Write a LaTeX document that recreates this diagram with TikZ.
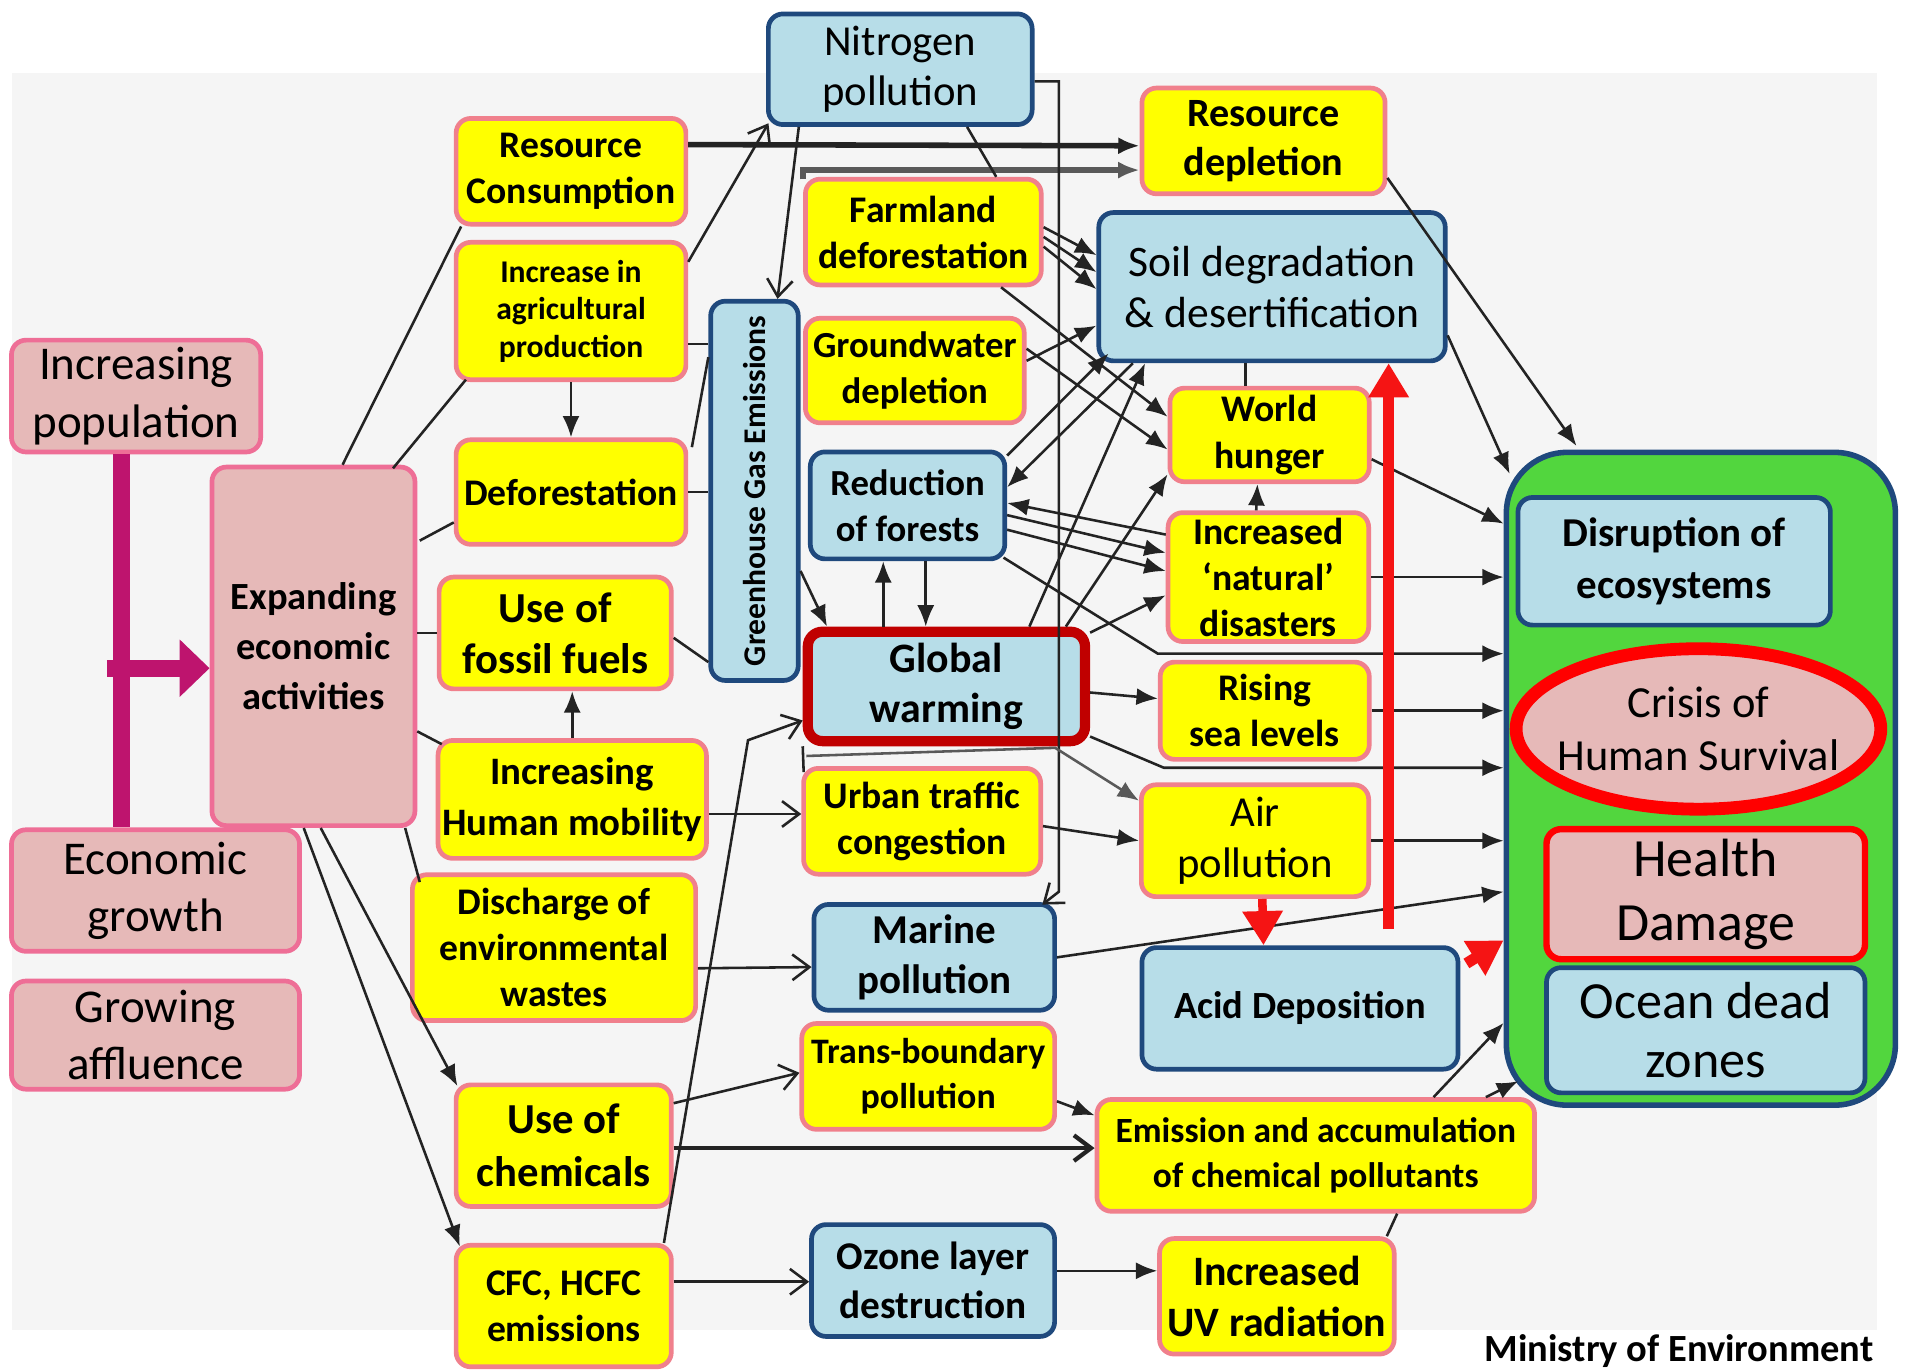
\documentclass[tikz,border=0pt]{standalone}
\usepackage{fontspec}
\setmainfont{Carlito}
\usetikzlibrary{arrows.meta, positioning, calc, shapes.geometric}

\definecolor{ylw}{RGB}{255,255,0}
\definecolor{ylwline}{RGB}{240,128,140}
\definecolor{lblue}{RGB}{183,221,232}
\definecolor{dblue}{RGB}{31,73,125}
\definecolor{lpink}{RGB}{230,185,184}
\definecolor{pinkline}{RGB}{238,110,150}
\definecolor{dred}{RGB}{192,0,0}
\definecolor{brightred}{RGB}{245,20,20}
\definecolor{grn}{RGB}{82,214,62}
\definecolor{bracketcol}{RGB}{190,20,110}
\definecolor{bgcol}{RGB}{245,245,245}
\definecolor{linecol}{RGB}{35,35,35}

\begin{document}
\begin{tikzpicture}[x=0.01cm, y=-0.01cm,
  box/.style={rounded corners=0.12cm, align=center, inner sep=1pt, line width=1.1pt},
  ybox/.style={box, fill=ylw, draw=ylwline, font=\fontsize{8.8}{10.8}\selectfont\bfseries},
  bbox/.style={box, fill=lblue, draw=dblue, font=\fontsize{10}{11.8}\selectfont},
  pbox/.style={box, fill=lpink, draw=pinkline, font=\fontsize{11}{13.4}\selectfont},
  link/.style={draw=linecol, line width=0.6pt},
  arr/.style={link, -{Latex[length=5pt,width=4pt]}},
  oarr/.style={link, -{Straight Barb[length=4pt,width=6pt]}},
  redarr/.style={draw=brightred, line width=2.6pt, -{Triangle[length=8pt,width=9pt]}}]
\fill[white] (0,0) rectangle (1568,1127);
\fill[bgcol] (10,60) rectangle (1545,1095);
\useasboundingbox (0,0) rectangle (1568,1127);

% drivers
\node[pbox, minimum width=2.05cm, minimum height=0.92cm] (pop) at (112,326) {Increasing\\population};
\node[pbox, minimum width=2.37cm, minimum height=1.00cm] (econ) at (128,733) {Economic\\growth};
\node[pbox, minimum width=2.37cm, minimum height=0.89cm] (afflu) at (128,852) {Growing\\affluence};
\node[pbox, minimum width=1.67cm, minimum height=2.95cm, font=\fontsize{9}{11.7}\selectfont\bfseries] (expand) at (258,532) {Expanding\\economic\\activities};

% pressures
\node[ybox, minimum width=1.89cm, minimum height=0.87cm] (rescons) at (470,141) {Resource\\Consumption};
\node[ybox, minimum width=1.89cm, minimum height=1.13cm, font=\fontsize{7.4}{8.8}\selectfont\bfseries] (agri) at (470,256) {Increase in\\agricultural\\production};
\node[ybox, minimum width=1.89cm, minimum height=0.86cm] (defor) at (470,405) {Deforestation};
\node[ybox, minimum width=1.91cm, minimum height=0.92cm, font=\fontsize{10}{12}\selectfont\bfseries] (fossil) at (457,521) {Use of\\fossil fuels};
\node[ybox, minimum width=2.18cm, minimum height=0.97cm, font=\fontsize{9.1}{12}\selectfont\bfseries] (mobil) at (471,658) {Increasing\\Human mobility};
\node[ybox, minimum width=2.33cm, minimum height=1.20cm] (disch) at (456,780) {Discharge of\\environmental\\wastes};
\node[ybox, minimum width=1.77cm, minimum height=1.00cm, font=\fontsize{10}{12.4}\selectfont\bfseries] (chem) at (464,943) {Use of\\chemicals};
\node[ybox, minimum width=1.77cm, minimum height=1.00cm] (cfc) at (464,1075) {CFC, HCFC\\emissions};
\node[bbox, minimum width=0.72cm, minimum height=3.12cm, font=\fontsize{7.4}{9}\selectfont\bfseries] (ghg) at (621,404) {\rotatebox{90}{Greenhouse Gas Emissions}};

% middle
\node[bbox, minimum width=2.17cm, minimum height=0.91cm] (nitro) at (741,57) {Nitrogen\\pollution};
\node[ybox, minimum width=1.94cm, minimum height=0.87cm] (farm) at (760,191) {Farmland\\deforestation};
\node[ybox, minimum width=1.80cm, minimum height=0.86cm, font=\fontsize{8.6}{10.8}\selectfont\bfseries] (ground) at (753,305) {Groundwater\\depletion};
\node[bbox, minimum width=1.60cm, minimum height=0.88cm, font=\fontsize{8.6}{10.8}\selectfont\bfseries] (redfor) at (747,416) {Reduction\\of forests};
\node[bbox, draw=dred, line width=2.4pt, minimum width=2.28cm, minimum height=0.90cm, font=\fontsize{9.8}{11.6}\selectfont\bfseries] (warm) at (779,565) {Global\\warming};
\node[ybox, minimum width=1.95cm, minimum height=0.87cm] (urban) at (759,676) {Urban traffic\\congestion};
\node[bbox, minimum width=1.98cm, minimum height=0.87cm, font=\fontsize{9.6}{11.6}\selectfont\bfseries] (marine) at (769,788) {Marine\\pollution};
\node[ybox, minimum width=2.08cm, minimum height=0.87cm, font=\fontsize{8.4}{10.6}\selectfont\bfseries] (trans) at (764,886) {Trans-boundary\\pollution};
\node[bbox, minimum width=2.00cm, minimum height=0.92cm, font=\fontsize{9.2}{11.6}\selectfont\bfseries] (ozone) at (768,1054) {Ozone layer\\destruction};

% impacts
\node[ybox, minimum width=2.00cm, minimum height=0.87cm, font=\fontsize{9.4}{11.6}\selectfont\bfseries] (resdep) at (1040,116) {Resource\\depletion};
\node[bbox, minimum width=2.85cm, minimum height=1.22cm, font=\fontsize{10.2}{12}\selectfont] (soil) at (1047,236) {Soil degradation\\\& desertification};
\node[ybox, minimum width=1.64cm, minimum height=0.77cm] (hunger) at (1045,358) {World\\hunger};
\node[ybox, minimum width=1.65cm, minimum height=1.06cm] (disas) at (1044,475) {Increased\\`natural'\\disasters};
\node[ybox, minimum width=1.72cm, minimum height=0.80cm] (sea) at (1041,585) {Rising\\sea levels};
\node[ybox, minimum width=1.87cm, minimum height=0.92cm, font=\fontsize{10}{12}\selectfont] (air) at (1033,692) {Air\\pollution};
\node[bbox, minimum width=2.60cm, minimum height=1.00cm, font=\fontsize{9}{11}\selectfont\bfseries] (acid) at (1070,830) {Acid Deposition};
\node[ybox, minimum width=3.60cm, minimum height=0.92cm, font=\fontsize{8.3}{10.6}\selectfont\bfseries] (emis) at (1083,951) {Emission and accumulation\\of chemical pollutants};
\node[ybox, minimum width=1.93cm, minimum height=0.95cm, font=\fontsize{9.8}{12}\selectfont\bfseries] (uv) at (1051,1067) {Increased\\UV radiation};

% outcome block
\node[draw=dblue, fill=grn, line width=1.3pt, rounded corners=0.5cm, minimum width=3.20cm, minimum height=5.37cm] (green) at (1400,641) {};
\node[bbox, minimum width=2.57cm, minimum height=1.05cm, font=\fontsize{9.6}{12}\selectfont\bfseries] (disrupt) at (1378,462) {Disruption of\\ecosystems};
\node[ellipse, fill=lpink, draw=red, line width=3pt, inner xsep=-11pt, inner ysep=-3pt, minimum width=3.0cm, minimum height=1.32cm, align=center, font=\fontsize{10.4}{12.6}\selectfont] (crisis) at (1398,600) {Crisis of\\Human Survival};
\node[pbox, draw=red, line width=1.5pt, minimum width=2.62cm, minimum height=1.07cm, font=\fontsize{12.6}{15}\selectfont] (health) at (1404,736) {Health\\Damage};
\node[bbox, minimum width=2.62cm, minimum height=1.03cm, font=\fontsize{12.2}{13.7}\selectfont] (ocean) at (1404,848) {Ocean dead\\zones};

\node[font=\fontsize{9}{11}\selectfont\bfseries] (ministry) at (1382,1112) {Ministry of Environment};

% bracket
\coordinate (hub) at (88,550);
\draw[bracketcol, line width=4pt] (100,0 |- pop.south) -- (100,0 |- econ.north);
\draw[bracketcol, line width=4pt, -{Triangle[length=7pt,width=13pt]}] (hub) -- (hub -| expand.west);

% from expanding activities
\draw[link] ($(expand.north)+(24,0)$) -- ($(rescons.south west)+(6,0)$);
\draw[link] ($(expand.north east)+(-20,3)$) -- ($(agri.south west)+(10,-2)$);
\draw[link] ($(expand.east)+(2,-87)$) -- ($(defor.west)+(0,25)$);
\draw[link] (expand.east |- fossil.west) -- (fossil.west);
\draw[link] ($(expand.east)+(0,70)$) -- ($(mobil.north west)+(5,5)$);
\draw[link] ($(expand.south east)+(-10,0)$) -- ($(disch.north west)+(8,8)$);
\draw[arr] ($(expand.south)+(6,0)$) -- ($(chem.north west)+(3,3)$);
\draw[arr] ($(expand.south)+(-8,0)$) -- ($(cfc.north west)+(5,3)$);

\draw[arr] (agri) -- (defor);
\draw[arr] (mobil.north) -- (mobil.north |- fossil.south);
\draw[oarr] ($(agri.north east)+(0,18)$) -- ($(nitro.south west)+(2,-3)$);
\draw[link] ($(agri.east)+(0,27)$) -- ($(agri.east -| ghg.west)+(0,27)$);
\draw[link] (defor.east) -- (defor.east -| ghg.west);
\draw[link] ($(defor.north east)+(3,8)$) -- ($(ghg.west)+(0,-110)$);
\draw[link] ($(fossil.east)+(0,4)$) -- ($(ghg.west)+(0,141)$);

% top row
\draw[arr, line width=1.3pt] ($(rescons.east)+(0,-22)$) -- ($(resdep.west)+(0,4)$);
\draw[arr, draw=gray!70!black, line width=1.3pt] ($(farm.north west)+(0,2)$) |- ($(resdep.west)+(0,24)$);
\draw[oarr] ($(nitro.south west)+(27,0)$) -- ($(ghg.north)+(19,0)$);
\draw[link] ($(nitro.south)+(55,0)$) -- ($(farm.north)+(60,0)$);
\draw[oarr] ($(nitro.east)+(0,10)$) -- ++(20,0) -- ++(0,667) -- ($(marine.north east)+(-12,2)$);

% web in the middle
\foreach \dy/\ey in {-4/-26, 4/-12, 12/2}
  \draw[arr] ($(farm.east)+(0,\dy)$) -- ($(soil.west)+(0,\ey)$);
\draw[arr] ($(farm.south east)+(-35,0)$) -- ($(hunger.west)+(0,-15)$);
\draw[arr] ($(ground.east)+(0,-8)$) -- ($(soil.west)+(0,32)$);
\draw[arr] ($(ground.east)+(0,-18)$) -- ($(hunger.west)+(0,12)$);
\draw[arr] ($(redfor.north east)+(0,5)$) -- ($(soil.south west)+(10,-8)$);
\draw[arr] ($(soil.south west)+(30,0)$) -- ($(redfor.east)+(0,-15)$);
\draw[arr] ($(redfor.east)+(0,8)$) -- ($(disas.west)+(0,-20)$);
\draw[arr] ($(redfor.east)+(0,20)$) -- ($(disas.west)+(0,-5)$);
\draw[arr] ($(disas.west)+(0,-35)$) -- ($(redfor.east)+(0,-2)$);
\draw[arr] ($(redfor.south east)+(-3,-3)$) -- ($(sea.north west)+(0,-5)$) -- ($(sea.north west -| green.west)+(0,-5)$);
\draw[arr] ($(warm.north east)+(-50,0)$) -- ($(soil.south west)+(40,0)$);
\draw[arr] ($(warm.north east)+(-20,0)$) -- ($(hunger.south west)+(0,-8)$);
\draw[arr] ($(warm.north east)+(0,5)$) -- ($(disas.west)+(0,15)$);
\draw[arr] ($(warm.north)+(-52,0)$) -- ($(redfor.south)+(-20,0)$);
\draw[arr] ($(redfor.south)+(15,0)$) -- ($(warm.north)+(-17,0)$);
\draw[arr] ($(ghg.east)+(0,66)$) -- ($(warm.north west)+(20,0)$);
\draw[arr] ($(warm.east)+(0,5)$) -- ($(sea.west)+(0,-10)$);
\draw[arr] ($(warm.south east)+(0,-8)$) -- ($(sea.south west)+(5,5)$) -- ($(sea.south west -| green.west)+(0,5)$);
\draw[link] (warm.south west) -- ($(urban.north west)+(2,5)$);
\draw[arr, draw=gray!70!black] ($(warm.south west)+(3,8)$) -- ($(urban.north east)+(10,-15)$) -- ($(air.north west)+(0,15)$);
\draw[arr] ($(disas.north)+(-10,0)$) -- ($(hunger.south)+(-10,0)$);
\draw[link] ($(hunger.north)+(-20,0)$) -- ($(hunger.north |- soil.south)+(-20,0)$);

% lower part
\draw[oarr] ($(cfc.north east)+(-8,0)$) -- ($(warm.south west)+(-45,-5)$) -- ($(warm.west)+(0,28)$);
\draw[oarr] ($(mobil.east)+(0,12)$) -- ($(urban.west)+(0,-6)$);
\draw[arr] ($(urban.east)+(0,4)$) -- (air.west);
\draw[oarr] ($(disch.east)+(0,17)$) -- ($(marine.west)+(0,8)$);
\draw[oarr] ($(chem.north east)+(0,17)$) -- ($(trans.west)+(0,-3)$);
\draw[oarr, line width=1pt] ($(chem.east)+(0,2)$) -- ($(emis.west)+(0,-6)$);
\draw[arr] ($(trans.south east)+(0,-25)$) -- ($(emis.north west)+(0,15)$);
\draw[oarr] ($(cfc.east)+(0,-20)$) -- ($(ozone.west)+(0,1)$);
\draw[arr] ($(ozone.east)+(0,-8)$) -- ($(uv.west)+(0,-21)$);
\draw[link] ($(uv.north east)+(-8,0)$) -- ($(emis.south)+(67,0)$);

% into the outcome block
\draw[arr] ($(resdep.south east)+(0,-15)$) -- ($(green.north west)+(60,-3)$);
\draw[arr] ($(soil.east)+(0,40)$) -- ($(green.north west)+(5,20)$);
\draw[arr] ($(hunger.east)+(0,20)$) -- ($(green.west)+(0,-210)$);
\draw[arr] (disas.east) -- (disas.east -| green.west);
\draw[arr] (sea.east) -- (sea.east -| green.west);
\draw[arr] (air.east) -- (air.east -| green.west);
\draw[arr] (marine.east) -- ($(green.west)+(0,93)$);
\draw[arr] ($(emis.north)+(97,0)$) -- ($(green.south west)+(0,-70)$);
\draw[arr] ($(emis.north)+(140,0)$) -- ($(green.south west)+(12,-22)$);

% red links
\coordinate (redfoot) at (1143,765);
\draw[redarr] (redfoot) -- (redfoot |- soil.south);
\draw[redarr, line width=2pt] ($(air.south)+(6,0)$) -- ($(acid.north)+(-30,0)$);
\draw[redarr] ($(acid.north east)+(5,15)$) -- ($(green.west)+(0,133)$);
\end{tikzpicture}
\end{document}
